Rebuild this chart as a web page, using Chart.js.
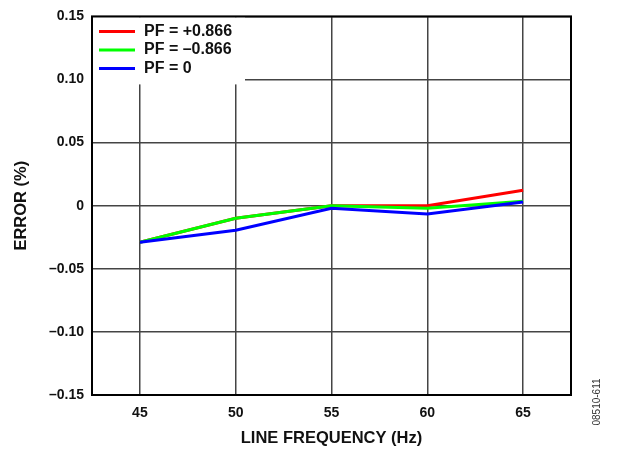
<!DOCTYPE html>
<html>
<head>
<meta charset="utf-8">
<script src="https://cdn.jsdelivr.net/npm/chart.js@4.4.0/dist/chart.umd.min.js"></script>
<style>
  html, body { margin: 0; padding: 0; background: #fff; }
  #wrap { width: 621px; height: 450px; }
</style>
</head>
<body>
<div id="wrap"><canvas id="chartError" width="621" height="450"></canvas></div>
<script>
const frequencies = [45, 50, 55, 60, 65];
const pfPos = [-0.029, -0.010, 0.000, 0.000, 0.0122];
const pfNeg = [-0.029, -0.010, 0.000, -0.002, 0.0035];
const pfZero = [-0.029, -0.0195, -0.002, -0.0065, 0.003];
const yTicks = [0.15, 0.10, 0.05, 0, -0.05, -0.10, -0.15];
const yTickLabels = ["0.15", "0.10", "0.05", "0", "–0.05", "–0.10", "–0.15"];
const seriesNames = ["PF = +0.866", "PF = –0.866", "PF = 0"];
const seriesColors = ["#ff0000", "#00ff00", "#0000ff"];

const FONT = "'Liberation Sans', Arial, sans-serif";

function toPoints(values) {
  return frequencies.map((f, i) => ({ x: f, y: values[i] }));
}

// frame, legend box and figure id
const extras = {
  id: "extras",
  afterDraw(chart) {
    const ctx = chart.ctx;
    const a = chart.chartArea;
    ctx.save();
    // legend box (covers grid)
    ctx.fillStyle = "#fff";
    ctx.fillRect(a.left + 1, a.top + 1, 152, 67);
    chart.data.datasets.forEach((ds, i) => {
      const y = a.top + 15 + i * 18.5;
      ctx.strokeStyle = ds.borderColor;
      ctx.lineWidth = 3;
      ctx.beginPath();
      ctx.moveTo(a.left + 7, y);
      ctx.lineTo(a.left + 43, y);
      ctx.stroke();
      ctx.fillStyle = "#111";
      ctx.font = "700 16px " + FONT;
      ctx.textBaseline = "middle";
      ctx.fillText(ds.label, a.left + 52, y);
    });
    // frame
    ctx.strokeStyle = "#000";
    ctx.lineWidth = 2;
    ctx.strokeRect(a.left, a.top, a.right - a.left, a.bottom - a.top);
    // figure id
    ctx.translate(597, 402);
    ctx.rotate(-Math.PI / 2);
    ctx.fillStyle = "#333";
    ctx.font = "10px " + FONT;
    ctx.textAlign = "center";
    ctx.textBaseline = "middle";
    ctx.fillText("08510-611", 0, 0);
    ctx.restore();
  },
};

const errorChart = new Chart(document.getElementById("chartError"), {
  type: "line",
  data: {
    datasets: [
      { label: seriesNames[0], data: toPoints(pfPos), borderColor: seriesColors[0], order: 3 },
      { label: seriesNames[1], data: toPoints(pfNeg), borderColor: seriesColors[1], order: 2 },
      { label: seriesNames[2], data: toPoints(pfZero), borderColor: seriesColors[2], order: 1 },
    ].map((d) => Object.assign(d, { borderWidth: 3, pointRadius: 0, tension: 0, fill: false })),
  },
  options: {
    responsive: false,
    animation: false,
    layout: { padding: { top: 11, right: 50, left: 0, bottom: 0 } },
    plugins: {
      legend: { display: false },
      tooltip: { enabled: false },
    },
    scales: {
      x: {
        type: "linear",
        min: 42.5,
        max: 67.5,
        afterBuildTicks(scale) {
          scale.ticks = frequencies.map((v) => ({ value: v }));
        },
        afterFit(scale) {
          scale.height = 55;
        },
        grid: { color: "#444", lineWidth: 1.5, drawTicks: false },
        border: { display: false },
        ticks: {
          padding: 10,
          color: "#111",
          font: { family: FONT, size: 14, weight: "bold" },
          callback: (v) => String(v),
        },
        title: {
          display: true,
          text: "LINE FREQUENCY (Hz)",
          color: "#111",
          font: { family: FONT, size: 16.5, weight: "bold" },
          padding: { top: 2, bottom: 2 },
        },
      },
      y: {
        min: -0.15,
        max: 0.15,
        afterBuildTicks(scale) {
          scale.ticks = yTicks.map((v) => ({ value: v }));
        },
        afterFit(scale) {
          scale.width = 92;
        },
        grid: { color: "#444", lineWidth: 1.5, drawTicks: false },
        border: { display: false },
        ticks: {
          padding: 8,
          color: "#111",
          font: { family: FONT, size: 14, weight: "bold" },
          callback: (v) => {
            const i = yTicks.findIndex((t) => Math.abs(t - v) < 1e-9);
            return i >= 0 ? yTickLabels[i] : "";
          },
        },
        title: {
          display: true,
          text: "ERROR (%)",
          color: "#111",
          font: { family: FONT, size: 16.5, weight: "bold" },
          padding: { top: 12, bottom: 4 },
        },
      },
    },
  },
  plugins: [extras],
});
</script>
</body>
</html>
